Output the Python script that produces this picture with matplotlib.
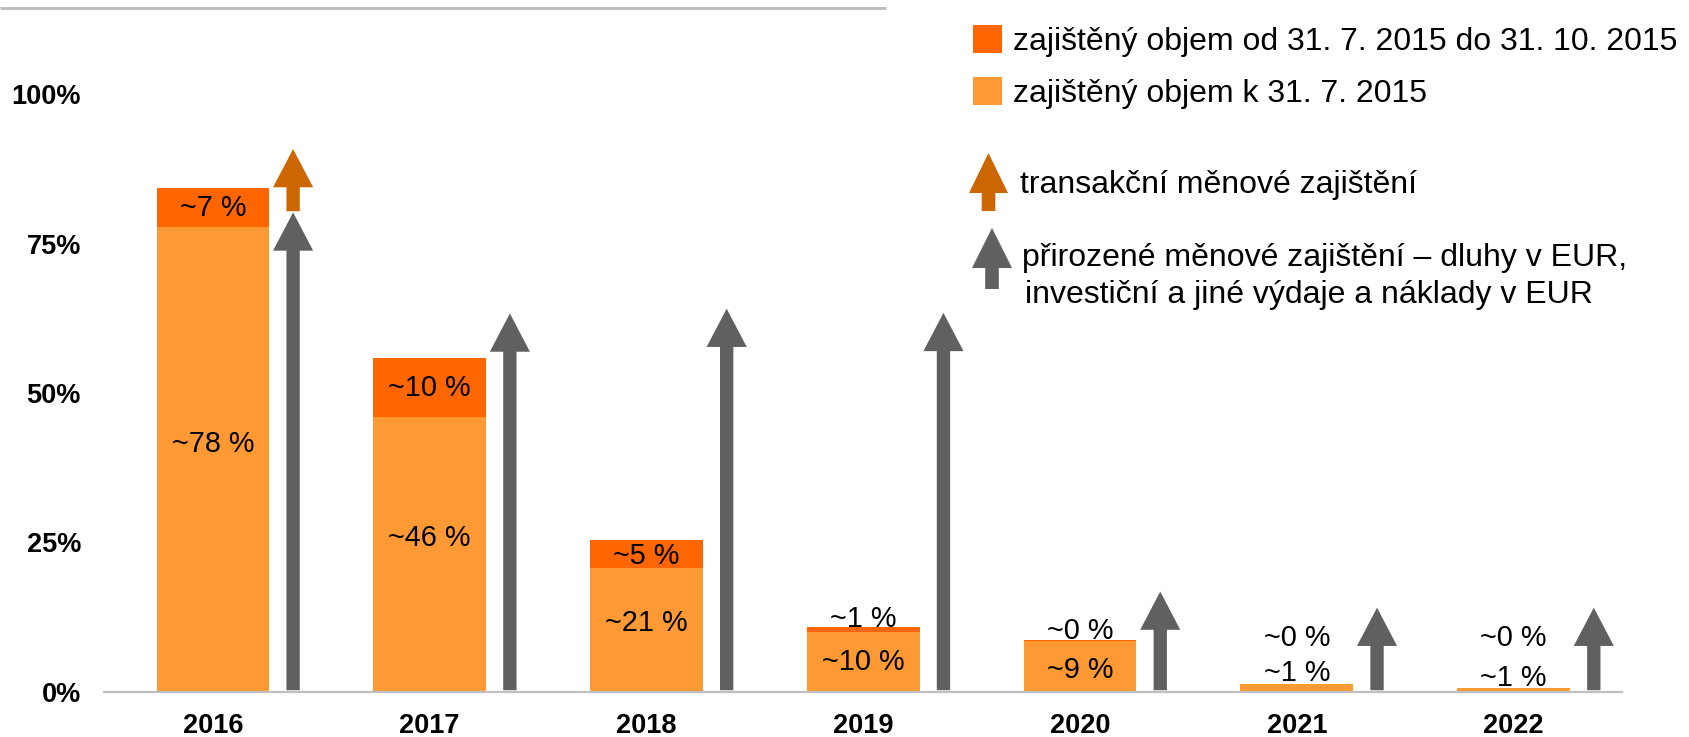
import matplotlib
matplotlib.use("Agg")
import matplotlib.pyplot as plt
from matplotlib.patches import FancyArrow, Rectangle
import numpy as np

plt.rcParams['font.family'] = ['Liberation Sans', 'DejaVu Sans']

# ---------------- data ----------------
years = ["2016", "2017", "2018", "2019", "2020", "2021", "2022"]
hedged_by_jul = [77.7, 46.0, 20.8, 10.1, 8.5, 1.3, 0.6]      # zajištěný objem k 31. 7. 2015
hedged_jul_oct = [6.5, 9.9, 4.7, 0.7, 0.2, 0.0, 0.0]        # zajištěný objem od 31. 7. do 31. 10. 2015
labels_by_jul = ["~78 %", "~46 %", "~21 %", "~10 %", "~9 %", "~1 %", "~1 %"]
labels_jul_oct = ["~7 %", "~10 %", "~5 %", "~1 %", "~0 %", "~0 %", "~0 %"]
natural_hedge_tip = [80.2, 63.3, 64.1, 63.4, 16.8, 14.1, 14.1]  # přirozené zajištění (šipky)
transaction_hedge = [(80.4, 90.8)]                           # 2016: transakční zajištění (od, do)
yticks = [0, 25, 50, 75, 100]
ytick_labels = ["0%", "25%", "50%", "75%", "100%"]

legend_texts = ["zajištěný objem od 31. 7. 2015 do 31. 10. 2015",
                "zajištěný objem k 31. 7. 2015",
                "transakční měnové zajištění",
                "přirozené měnové zajištění – dluhy v EUR,",
                "investiční a jiné výdaje a náklady v EUR"]

# ---------------- style ----------------
C_DARK = "#FF6600"
C_LIGHT = "#FF9933"
C_GRAY = "#606060"
C_TRANS = "#CC6600"
C_LINE = "#BFBFBF"

W, H = 1690, 737
fig = plt.figure(figsize=(W / 100, H / 100), dpi=100)

ax = fig.add_axes([104.5 / W, (H - 692) / H, 1517.5 / W, 598 / H])
x = np.arange(len(years))
bw = 0.52
ax.bar(x, hedged_by_jul, width=bw, color=C_LIGHT, zorder=2)
ax.bar(x, hedged_jul_oct, width=bw, bottom=hedged_by_jul, color=C_DARK, zorder=2)

ax.set_xlim(-0.5, len(years) - 0.5)
ax.set_ylim(0, 100)

# labels inside bars (layout positions)
light_label_y = [41.9, 26.2, 11.9, 5.4, 4.0, 3.6, 2.7]
dark_label_y = [81.3, 51.2, 23.1, 12.6, 10.6, 9.4, 9.4]
fs_lab = 20.8
for i in range(len(years)):
    for txt, yy in ((labels_by_jul[i], light_label_y[i]), (labels_jul_oct[i], dark_label_y[i])):
        ax.annotate(txt, (x[i], yy), xytext=(0, -0.358 * fs_lab), textcoords="offset points",
                    ha="center", va="baseline", fontsize=fs_lab, color="black", zorder=4)

# arrows
arr_dx = 0.37
shaft_w = 0.0615
head_w = 0.185
head_l = 6.4
for i, tip in enumerate(natural_hedge_tip):
    y0 = 0.3
    ax.add_patch(FancyArrow(x[i] + arr_dx, y0, 0, tip - y0, width=shaft_w, head_width=head_w,
                            head_length=head_l, length_includes_head=True,
                            color=C_GRAY, lw=0, zorder=3))
for i, (lo, hi) in enumerate(transaction_hedge):
    ax.add_patch(FancyArrow(x[i] + arr_dx, lo, 0, hi - lo, width=shaft_w, head_width=head_w,
                            head_length=head_l, length_includes_head=True,
                            color=C_TRANS, lw=0, zorder=3))

for s in ["top", "right", "left"]:
    ax.spines[s].set_visible(False)
ax.spines["bottom"].set_color(C_LINE)
ax.spines["bottom"].set_linewidth(1.6)
ax.spines["bottom"].set_zorder(5)
ax.set_xticks(x)
ax.set_xticklabels(years, fontsize=19.5, fontweight="bold")
ax.set_yticks(yticks)
ax.set_yticklabels(ytick_labels, fontsize=19.5, fontweight="bold")
ax.tick_params(axis="both", length=0)
ax.tick_params(axis="y", pad=17)
ax.tick_params(axis="x", pad=15)
ax.patch.set_alpha(0)

# ---------------- overlay (legend, top rule) ----------------
ov = fig.add_axes([0, 0, 1, 1])
ov.set_xlim(0, W)
ov.set_ylim(H, 0)
ov.axis("off")
ov.patch.set_alpha(0)

ov.plot([0, 886], [8, 8], color=C_LINE, lw=2.2, solid_capstyle="butt")

fs_leg = 23
off = 0.358 * fs_leg * 100 / 72
ov.add_patch(Rectangle((973, 25), 29, 28, color=C_DARK, lw=0))
ov.add_patch(Rectangle((973, 77), 29, 28, color=C_LIGHT, lw=0))
ov.text(1013, 39 + off, legend_texts[0], fontsize=fs_leg, va="baseline", ha="left")
ov.text(1013, 91 + off, legend_texts[1], fontsize=fs_leg, va="baseline", ha="left")

ov.add_patch(FancyArrow(988.5, 211, 0, -(211 - 153), width=13.6, head_width=39, head_length=40,
                        length_includes_head=True, color=C_TRANS, lw=0))
ov.text(1020, 182 + off, legend_texts[2], fontsize=fs_leg, va="baseline", ha="left")

ov.add_patch(FancyArrow(992, 289, 0, -(289 - 228), width=13.6, head_width=40, head_length=40,
                        length_includes_head=True, color=C_GRAY, lw=0))
ov.text(1022, 255 + off, legend_texts[3], fontsize=fs_leg, va="baseline", ha="left")
ov.text(1025, 292 + off, legend_texts[4], fontsize=fs_leg, va="baseline", ha="left")

fig.savefig("out.png", dpi=100)
